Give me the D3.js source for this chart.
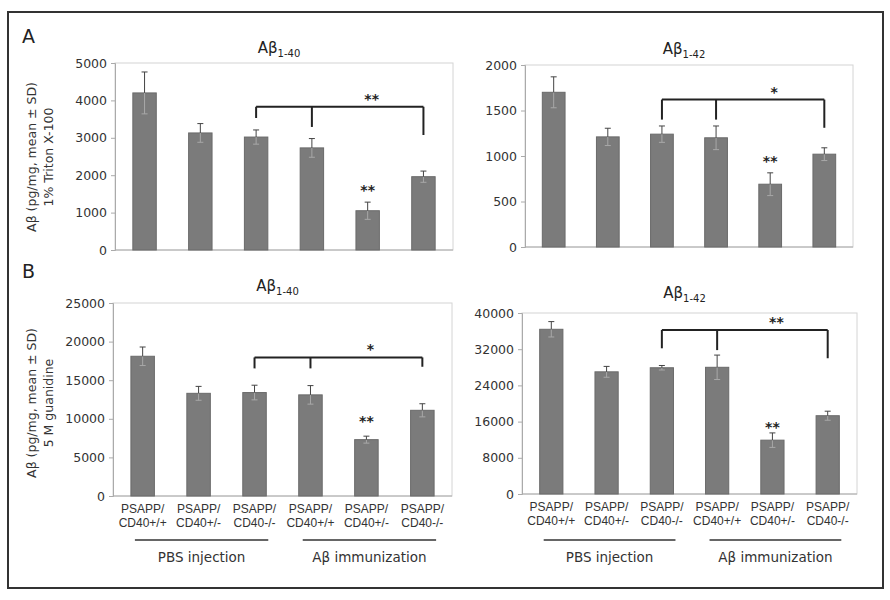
<!DOCTYPE html>
<html>
<head>
<meta charset="utf-8">
<script src="https://cdn.jsdelivr.net/npm/d3@7"></script>
<style>
  body { margin: 0; background: #fff; }
  svg { font-family: "DejaVu Sans", sans-serif; }
</style>
</head>
<body>
<div id="chart"></div>
<script>
// categories (two-line labels)
var genotypes = ["PSAPP/|CD40+/+", "PSAPP/|CD40+/-", "PSAPP/|CD40-/-",
                 "PSAPP/|CD40+/+", "PSAPP/|CD40+/-", "PSAPP/|CD40-/-"];
var treatments = ["PBS injection", "A\u03b2 immunization"];
var titles = ["1-40", "1-42", "1-40", "1-42"];

// values (pg/mg, mean and SD)
var tritonAb40 = [4200, 3130, 3020, 2730, 1050, 1960];
var tritonAb40SD = [560, 250, 190, 250, 230, 150];
var tritonAb42 = [1700, 1210, 1240, 1200, 690, 1020];
var tritonAb42SD = [170, 95, 90, 130, 125, 70];
var guanAb40 = [18100, 13300, 13400, 13100, 7300, 11100];
var guanAb40SD = [1200, 900, 950, 1200, 450, 850];
var guanAb42 = [36400, 27000, 27900, 28000, 11900, 17300];
var guanAb42SD = [1700, 1200, 500, 2700, 1600, 1000];

// y axis ticks
var ticksA40 = [0, 1000, 2000, 3000, 4000, 5000];
var ticksA42 = [0, 500, 1000, 1500, 2000];
var ticksB40 = [0, 5000, 10000, 15000, 20000, 25000];
var ticksB42 = [0, 8000, 16000, 24000, 32000, 40000];

// significance brackets: bar 3 & 4 vs bar 6
var bracketTop = [3830, 1620, 17950, 36240];
var bracketLegs = [[3530, 3290, 3075], [1400, 1400, 1310], [16530, 16530, 16740], [32200, 31800, 30000]];
var bracketMarks = ["**", "*", "*", "**"];
var barMarks = ["**", "**", "**", "**"];
var barMarkLevel = [1600, 945, 9700, 14800];

var panels = [
  {vals: tritonAb40, sd: tritonAb40SD, ticks: ticksA40, x0: 115, x1: 453, y0: 63, y1: 250, ty: 53, xlab: false},
  {vals: tritonAb42, sd: tritonAb42SD, ticks: ticksA42, x0: 525, x1: 853, y0: 65, y1: 247, ty: 54, xlab: false},
  {vals: guanAb40, sd: guanAb40SD, ticks: ticksB40, x0: 113, x1: 452, y0: 303, y1: 496, ty: 291, xlab: true},
  {vals: guanAb42, sd: guanAb42SD, ticks: ticksB42, x0: 522, x1: 857, y0: 313, y1: 494, ty: 298, xlab: true}
];

var svg = d3.select("#chart").append("svg")
    .attr("width", 890)
    .attr("height", 600);

svg.append("rect")
    .attr("x", 8).attr("y", 12)
    .attr("width", 875).attr("height", 576)
    .attr("fill", "none")
    .attr("stroke", "#333")
    .attr("stroke-width", 2);

svg.append("text").attr("x", 22).attr("y", 43)
    .attr("font-size", 19).attr("fill", "#222").text("A");
svg.append("text").attr("x", 22).attr("y", 278)
    .attr("font-size", 19).attr("fill", "#222").text("B");

panels.forEach(function(p, k) {
    var x = d3.scaleBand()
        .domain(d3.range(genotypes.length))
        .range([p.x0, p.x1])
        .paddingInner(0.58)
        .paddingOuter(0.32);
    var y = d3.scaleLinear()
        .domain([0, d3.max(p.ticks)])
        .range([p.y1, p.y0]);

    var g = svg.append("g");

    // plot area outline
    g.append("rect")
        .attr("x", p.x0).attr("y", p.y0)
        .attr("width", p.x1 - p.x0).attr("height", p.y1 - p.y0)
        .attr("fill", "none")
        .attr("stroke", "#d4d4d4");

    var ax = g.append("g")
        .attr("transform", "translate(" + p.x0 + ",0)")
        .call(d3.axisLeft(y).tickValues(p.ticks).tickSize(4).tickPadding(4).tickFormat(d3.format("d")));
    ax.select(".domain").attr("stroke", "#aaa");
    ax.selectAll(".tick line").attr("stroke", "#aaa");
    ax.selectAll(".tick text")
        .attr("font-size", 12.5)
        .attr("fill", "#333")
        .attr("font-family", "'DejaVu Sans', sans-serif");

    g.append("line")
        .attr("x1", p.x0).attr("x2", p.x1)
        .attr("y1", p.y1).attr("y2", p.y1)
        .attr("stroke", "#aaa");

    g.selectAll("rect.bar")
        .data(p.vals)
        .enter().append("rect")
        .attr("class", "bar")
        .attr("x", function(d, i) { return x(i); })
        .attr("y", function(d) { return y(d); })
        .attr("width", x.bandwidth())
        .attr("height", function(d) { return p.y1 - y(d); })
        .attr("fill", "#7b7b7b")
        .attr("stroke", "#6a6a6a");

    var cx = function(i) { return x(i) + x.bandwidth() / 2; };

    // error bars: light part inside the bar, dark part above
    p.vals.forEach(function(v, i) {
        var s = p.sd[i];
        g.append("line")
            .attr("x1", cx(i)).attr("x2", cx(i))
            .attr("y1", y(v)).attr("y2", y(v - s))
            .attr("stroke", "#a8a8a8");
        g.append("line")
            .attr("x1", cx(i) - 3).attr("x2", cx(i) + 3)
            .attr("y1", y(v - s)).attr("y2", y(v - s))
            .attr("stroke", "#a8a8a8");
        g.append("line")
            .attr("x1", cx(i)).attr("x2", cx(i))
            .attr("y1", y(v)).attr("y2", y(v + s))
            .attr("stroke", "#444");
        g.append("line")
            .attr("x1", cx(i) - 3).attr("x2", cx(i) + 3)
            .attr("y1", y(v + s)).attr("y2", y(v + s))
            .attr("stroke", "#444");
    });

    // bracket
    var legIdx = [2, 3, 5];
    g.append("line")
        .attr("x1", cx(2)).attr("x2", cx(5))
        .attr("y1", y(bracketTop[k])).attr("y2", y(bracketTop[k]))
        .attr("stroke", "#222").attr("stroke-width", 2);
    legIdx.forEach(function(i, j) {
        g.append("line")
            .attr("x1", cx(i)).attr("x2", cx(i))
            .attr("y1", y(bracketTop[k])).attr("y2", y(bracketLegs[k][j]))
            .attr("stroke", "#222").attr("stroke-width", 2);
    });
    g.append("text")
        .attr("x", cx(4) + 4)
        .attr("y", y(bracketTop[k]) - 3)
        .attr("text-anchor", "middle")
        .attr("font-size", 14).attr("font-weight", "bold").attr("fill", "#222")
        .text(bracketMarks[k]);
    g.append("text")
        .attr("x", cx(4))
        .attr("y", y(barMarkLevel[k]) + 5)
        .attr("text-anchor", "middle")
        .attr("font-size", 14).attr("font-weight", "bold").attr("fill", "#222")
        .text(barMarks[k]);

    // title
    var t = g.append("text")
        .attr("x", (p.x0 + p.x1) / 2 - 5)
        .attr("y", p.ty)
        .attr("text-anchor", "middle")
        .attr("font-size", 15).attr("fill", "#222");
    t.append("tspan").text("A\u03b2");
    t.append("tspan").attr("font-size", 10).attr("dy", 4).text(titles[k]);

    if (p.xlab) {
        genotypes.forEach(function(c, i) {
            var parts = c.split("|");
            var tx = g.append("text")
                .attr("x", cx(i))
                .attr("y", p.y1 + 17)
                .attr("text-anchor", "middle")
                .attr("font-family", "'Liberation Sans', Arial, sans-serif")
                .attr("font-size", 12).attr("fill", "#333");
            tx.append("tspan").attr("x", cx(i)).text(parts[0]);
            tx.append("tspan").attr("x", cx(i)).attr("dy", 14).text(parts[1]);
        });
        treatments.forEach(function(name, j) {
            var a = x(j * 3) + 4, b = x(j * 3 + 2) + x.bandwidth() + 2;
            g.append("line")
                .attr("x1", a).attr("x2", b)
                .attr("y1", 540).attr("y2", 540)
                .attr("stroke", "#333").attr("stroke-width", 1.5);
            g.append("text")
                .attr("x", (a + b) / 2)
                .attr("y", 562)
                .attr("text-anchor", "middle")
                .attr("font-size", 13.5).attr("fill", "#333")
                .text(name);
        });
    }
});

// y axis titles
var yTitles = [["A\u03b2 (pg/mg, mean \u00b1 SD)", "1% Triton X-100", 157],
               ["A\u03b2 (pg/mg, mean \u00b1 SD)", "5 M guanidine", 403]];
yTitles.forEach(function(d) {
    var t = svg.append("text")
        .attr("transform", "translate(36," + d[2] + ") rotate(-90)")
        .attr("text-anchor", "middle")
        .attr("font-size", 12.5).attr("fill", "#333");
    t.append("tspan").attr("x", 0).attr("y", 0).text(d[0]);
    t.append("tspan").attr("x", 0).attr("y", 17).text(d[1]);
});
</script>
</body>
</html>
